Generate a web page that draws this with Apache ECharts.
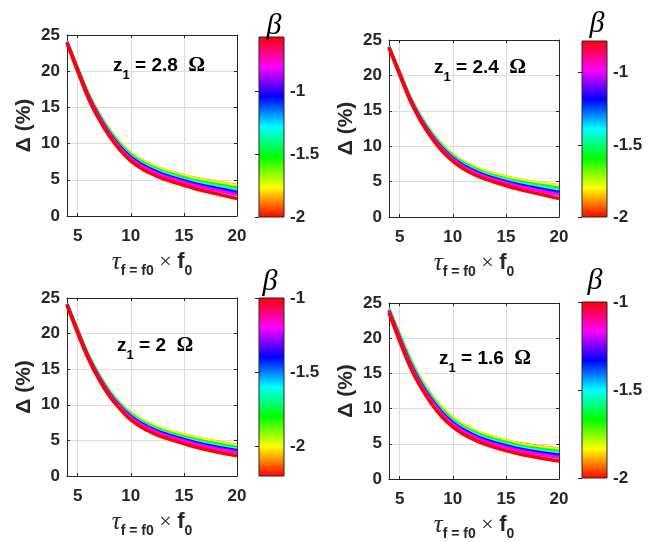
<!DOCTYPE html>
<html><head><meta charset="utf-8">
<script src="https://cdn.jsdelivr.net/npm/echarts@6/dist/echarts.min.js"></script>
<style>html,body{margin:0;padding:0;background:#fff}#c{width:656px;height:542px}</style>
</head><body><div id="c"></div>
<script>
// ---------- data ----------
const xValues = [4, 5, 6, 7, 8, 9, 10, 11, 12, 13, 14, 16, 18, 20];
const xTicks = [5, 10, 15, 20];
const yTicks = [0, 5, 10, 15, 20, 25];
const cbTicks = [-2, -1.5, -1];

const z1Labels = ['2.8', '2.4', '2', '1.6'];

const betaRange1 = [-2, -0.57];
const betaRange2 = [-2, -0.78];
const betaRange3 = [-2.2, -1];
const betaRange4 = [-2, -1];

const betas1 = [-1.885, -1.76, -1.52, -1.285, -1.04, -0.93, -0.81, -0.57];
const betas2 = [-1.9, -1.797, -1.593, -1.39, -1.187, -1.085, -0.983, -0.78];
const betas3 = [-2.1, -2.0, -1.8, -1.6, -1.4, -1.3, -1.2, -1.0];
const betas4 = [-1.92, -1.833, -1.667, -1.5, -1.333, -1.25, -1.167, -1.0];

const delta1 = [
  [24.11, 20.52, 17.02, 14.22, 11.93, 10.13, 8.73, 7.75, 7.04, 6.44, 5.99, 5.24, 4.70, 4.25],
  [24.10, 20.50, 17.00, 14.20, 11.90, 10.10, 8.70, 7.71, 7.00, 6.40, 5.95, 5.20, 4.65, 4.20],
  [24.07, 20.42, 16.88, 14.06, 11.75, 9.93, 8.51, 7.52, 6.80, 6.19, 5.74, 4.96, 4.39, 3.89],
  [24.03, 20.34, 16.77, 13.94, 11.60, 9.77, 8.34, 7.33, 6.60, 5.99, 5.54, 4.74, 4.14, 3.61],
  [24.00, 20.25, 16.65, 13.80, 11.45, 9.60, 8.15, 7.14, 6.40, 5.79, 5.33, 4.50, 3.88, 3.30],
  [23.98, 20.20, 16.58, 13.72, 11.36, 9.50, 8.04, 7.02, 6.28, 5.66, 5.20, 4.36, 3.72, 3.12],
  [23.96, 20.15, 16.51, 13.64, 11.27, 9.40, 7.93, 6.91, 6.16, 5.54, 5.08, 4.22, 3.57, 2.94],
  [23.90, 20.00, 16.30, 13.40, 11.00, 9.10, 7.60, 6.56, 5.80, 5.17, 4.70, 3.80, 3.10, 2.40]
];
const delta2 = [
  [24.11, 20.51, 17.02, 14.22, 12.02, 10.23, 8.83, 7.84, 7.13, 6.50, 6.03, 5.34, 4.85, 4.45],
  [24.10, 20.50, 17.00, 14.20, 12.00, 10.20, 8.80, 7.81, 7.10, 6.47, 6.00, 5.30, 4.80, 4.40],
  [24.07, 20.43, 16.90, 14.08, 11.86, 10.05, 8.65, 7.64, 6.91, 6.28, 5.81, 5.08, 4.55, 4.09],
  [24.03, 20.37, 16.80, 13.97, 11.74, 9.90, 8.50, 7.48, 6.74, 6.11, 5.64, 4.87, 4.31, 3.81],
  [24.00, 20.30, 16.70, 13.85, 11.60, 9.75, 8.35, 7.31, 6.55, 5.92, 5.45, 4.65, 4.05, 3.50],
  [23.98, 20.26, 16.64, 13.78, 11.52, 9.66, 8.26, 7.21, 6.44, 5.81, 5.34, 4.52, 3.90, 3.32],
  [23.96, 20.22, 16.58, 13.71, 11.44, 9.57, 8.17, 7.11, 6.33, 5.70, 5.23, 4.39, 3.75, 3.14],
  [23.90, 20.10, 16.40, 13.50, 11.20, 9.30, 7.90, 6.81, 6.00, 5.37, 4.90, 4.00, 3.30, 2.60]
];
const delta3 = [
  [24.21, 20.62, 17.12, 14.32, 12.02, 10.22, 8.93, 7.94, 7.23, 6.63, 6.18, 5.44, 4.84, 4.34],
  [24.20, 20.60, 17.10, 14.30, 12.00, 10.20, 8.90, 7.91, 7.20, 6.60, 6.15, 5.40, 4.80, 4.30],
  [24.17, 20.52, 17.00, 14.18, 11.86, 10.06, 8.73, 7.73, 7.01, 6.40, 5.95, 5.18, 4.56, 4.05],
  [24.13, 20.44, 16.90, 14.07, 11.74, 9.94, 8.57, 7.57, 6.84, 6.23, 5.77, 4.97, 4.34, 3.82],
  [24.10, 20.35, 16.80, 13.95, 11.60, 9.80, 8.40, 7.39, 6.65, 6.04, 5.58, 4.75, 4.10, 3.58],
  [24.08, 20.30, 16.74, 13.88, 11.52, 9.72, 8.30, 7.28, 6.54, 5.92, 5.46, 4.62, 3.96, 3.43],
  [24.06, 20.25, 16.68, 13.81, 11.44, 9.64, 8.20, 7.18, 6.43, 5.81, 5.35, 4.49, 3.82, 3.29],
  [24.00, 20.10, 16.50, 13.60, 11.20, 9.40, 7.90, 6.86, 6.10, 5.47, 5.00, 4.10, 3.40, 2.85]
];
const delta4 = [
  [24.22, 20.63, 17.14, 14.24, 11.94, 10.14, 8.74, 7.70, 6.94, 6.34, 5.89, 5.14, 4.65, 4.30],
  [24.20, 20.60, 17.10, 14.20, 11.90, 10.10, 8.70, 7.66, 6.90, 6.30, 5.85, 5.10, 4.60, 4.25],
  [24.10, 20.43, 16.90, 14.00, 11.70, 9.88, 8.48, 7.44, 6.68, 6.07, 5.61, 4.85, 4.34, 3.96],
  [24.00, 20.27, 16.70, 13.80, 11.50, 9.67, 8.27, 7.23, 6.47, 5.85, 5.39, 4.62, 4.09, 3.69],
  [23.90, 20.10, 16.50, 13.60, 11.30, 9.45, 8.05, 7.01, 6.25, 5.62, 5.15, 4.38, 3.83, 3.40],
  [23.84, 20.00, 16.38, 13.48, 11.18, 9.32, 7.92, 6.88, 6.12, 5.49, 5.01, 4.23, 3.67, 3.23],
  [23.78, 19.90, 16.26, 13.36, 11.06, 9.19, 7.79, 6.75, 5.99, 5.35, 4.87, 4.09, 3.52, 3.06],
  [23.60, 19.60, 15.90, 13.00, 10.70, 8.80, 7.40, 6.36, 5.60, 4.95, 4.45, 3.65, 3.05, 2.55]
];

// ---------- layout / style ----------
const panels = [
  {betas: betas1, delta: delta1, range: betaRange1, z: z1Labels[0],
   grid: {left: 67, top: 35, width: 170, height: 181}, cb: {left: 259, top: 37, width: 25, height: 180},
   title: {left: 113, top: 50}, beta: [274, 26]},
  {betas: betas2, delta: delta2, range: betaRange2, z: z1Labels[1],
   grid: {left: 389, top: 40, width: 170, height: 177}, cb: {left: 582, top: 41, width: 25, height: 176},
   title: {left: 434, top: 52}, beta: [597, 24]},
  {betas: betas3, delta: delta3, range: betaRange3, z: z1Labels[2],
   grid: {left: 67, top: 298, width: 170, height: 178}, cb: {left: 259, top: 298, width: 25, height: 178},
   title: {left: 117, top: 330}, beta: [270, 282]},
  {betas: betas4, delta: delta4, range: betaRange4, z: z1Labels[3],
   grid: {left: 389, top: 303, width: 170, height: 177}, cb: {left: 582, top: 302, width: 25, height: 176},
   title: {left: 439, top: 343}, beta: [595, 281]}
];

const TXT = '#262626';
const SANS = 'Liberation Sans';
const SERIF = 'Liberation Serif';
const TICK_FS = 17;

function hsv(h) {
  h = Math.max(0, Math.min(1, h));
  const hh = h * 6, i = Math.floor(hh), f = hh - i;
  let r, g, b;
  switch (i % 6) {
    case 0: r = 1; g = f; b = 0; break;
    case 1: r = 1 - f; g = 1; b = 0; break;
    case 2: r = 0; g = 1; b = f; break;
    case 3: r = 0; g = 1 - f; b = 1; break;
    case 4: r = f; g = 0; b = 1; break;
    default: r = 1; g = 0; b = 1 - f;
  }
  return 'rgb(' + Math.round(r * 255) + ',' + Math.round(g * 255) + ',' + Math.round(b * 255) + ')';
}

const cbStops = [];
for (let k = 0; k <= 24; k++) cbStops.push({offset: k / 24, color: hsv(1 - k / 24)});

const grids = [], xAxes = [], yAxes = [], series = [], titles = [], graphics = [];

const xName = '{t|τ}{s|f = f0}{m| × }{b|f}{s|0}';
const xNameRich = {
  t: {fontFamily: SERIF, fontStyle: 'italic', fontSize: 25, color: TXT, lineHeight: 32, verticalAlign: 'middle'},
  s: {fontFamily: SANS, fontWeight: 'bold', fontSize: 14, color: TXT, lineHeight: 14, verticalAlign: 'bottom'},
  m: {fontFamily: SERIF, fontSize: 22, color: TXT, lineHeight: 32, verticalAlign: 'middle'},
  b: {fontFamily: SANS, fontWeight: 'bold', fontSize: 22, color: TXT, lineHeight: 32, verticalAlign: 'middle'}
};

panels.forEach((p, i) => {
  grids.push(Object.assign({containLabel: false}, p.grid));
  xAxes.push({
    type: 'value', gridIndex: i, min: 4, max: 20, position: 'bottom',
    axisLine: {show: true, onZero: false, lineStyle: {color: TXT, width: 1}},
    axisTick: {show: true, inside: true, length: 3, customValues: xTicks, lineStyle: {color: TXT}},
    axisLabel: {show: true, customValues: xTicks, margin: 12, color: TXT, fontFamily: SANS, fontWeight: 'bold', fontSize: TICK_FS},
    splitLine: {show: true, lineStyle: {color: '#dcdcdc', width: 1}},
    name: xName, nameLocation: 'middle', nameGap: 30,
    nameTextStyle: {rich: xNameRich}
  });
  xAxes.push({
    type: 'value', gridIndex: i, min: 4, max: 20, position: 'top',
    axisLine: {show: true, onZero: false, lineStyle: {color: TXT, width: 1}},
    axisTick: {show: true, inside: true, length: 3, customValues: xTicks, lineStyle: {color: TXT}},
    axisLabel: {show: false}, splitLine: {show: false}
  });
  yAxes.push({
    type: 'value', gridIndex: i, min: 0, max: 25, interval: 5, position: 'left',
    axisLine: {show: true, onZero: false, lineStyle: {color: TXT, width: 1}},
    axisTick: {show: true, inside: true, length: 3, lineStyle: {color: TXT}},
    axisLabel: {show: true, margin: 7, color: TXT, fontFamily: SANS, fontWeight: 'bold', fontSize: TICK_FS},
    splitLine: {show: true, lineStyle: {color: '#dcdcdc', width: 1}},
    name: 'Δ (%)', nameLocation: 'middle', nameGap: 32, nameRotate: 90,
    nameTextStyle: {color: TXT, fontFamily: SANS, fontWeight: 'bold', fontSize: 21}
  });
  yAxes.push({
    type: 'value', gridIndex: i, min: 0, max: 25, interval: 5, position: 'right',
    axisLine: {show: true, onZero: false, lineStyle: {color: TXT, width: 1}},
    axisTick: {show: true, inside: true, length: 3, lineStyle: {color: TXT}},
    axisLabel: {show: false}, splitLine: {show: false}
  });
  const span = p.range[1] - p.range[0];
  p.betas.forEach((b, k) => {
    const isLast = k === p.betas.length - 1;
    const col = hsv((b - p.range[0]) / span);
    series.push({
      type: 'line', xAxisIndex: 2 * i, yAxisIndex: 2 * i,
      data: xValues.map((x, j) => [x, p.delta[k][j]]),
      showSymbol: false, smooth: 0.3,
      lineStyle: {width: isLast ? 3.5 : 3, color: col},
      itemStyle: {color: col},
      emphasis: {disabled: true}, silent: true, animation: false, z: 2
    });
  });
  titles.push({
    left: p.title.left, top: p.title.top, padding: 0,
    text: '{b|z}{s|1}{b| = ' + p.z + '  }{o|Ω}',
    textStyle: {rich: {
      b: {fontFamily: SANS, fontWeight: 'bold', fontSize: 19, color: '#000', lineHeight: 32, verticalAlign: 'middle'},
      s: {fontFamily: SANS, fontWeight: 'bold', fontSize: 13, color: '#000', lineHeight: 14, verticalAlign: 'bottom'},
      o: {fontFamily: SERIF, fontSize: 21, color: '#000', lineHeight: 32, verticalAlign: 'middle'}
    }}
  });
  graphics.push({
    type: 'text', x: p.beta[0], y: p.beta[1], z: 10,
    style: {text: 'β', fill: '#000', font: 'italic 30px "Liberation Serif"', textAlign: 'center', textVerticalAlign: 'middle'}
  });
});

panels.forEach((p, i) => {
  grids.push(Object.assign({containLabel: false, show: false}, p.cb));
  xAxes.push({type: 'value', gridIndex: 4 + i, min: 0, max: 1, show: false});
  yAxes.push({
    type: 'value', gridIndex: 4 + i, min: p.range[0], max: p.range[1], position: 'right',
    axisLine: {show: false},
    axisTick: {show: true, inside: true, length: 4, customValues: cbTicks, lineStyle: {color: TXT}},
    axisLabel: {show: true, customValues: cbTicks, margin: 6, color: TXT, fontFamily: SANS, fontWeight: 'bold', fontSize: TICK_FS},
    splitLine: {show: false}
  });
  series.push({
    type: 'custom', xAxisIndex: 8 + i, yAxisIndex: 8 + i, silent: true, animation: false, z: 1,
    data: [[0, p.range[0], 1, p.range[1]]],
    encode: {x: [0, 2], y: [1, 3]},
    renderItem: function (params, api) {
      const a = api.coord([api.value(0), api.value(3)]);
      const b = api.coord([api.value(2), api.value(1)]);
      return {
        type: 'rect',
        shape: {x: a[0], y: a[1], width: b[0] - a[0], height: b[1] - a[1]},
        style: {fill: new echarts.graphic.LinearGradient(0, 0, 0, 1, cbStops), stroke: TXT, lineWidth: 1}
      };
    }
  });
});

const chart = echarts.init(document.getElementById('c'), null, {renderer: 'canvas'});
chart.setOption({
  backgroundColor: '#fff',
  animation: false,
  title: titles,
  grid: grids,
  xAxis: xAxes,
  yAxis: yAxes,
  series: series,
  graphic: graphics
});
</script>
</body></html>
